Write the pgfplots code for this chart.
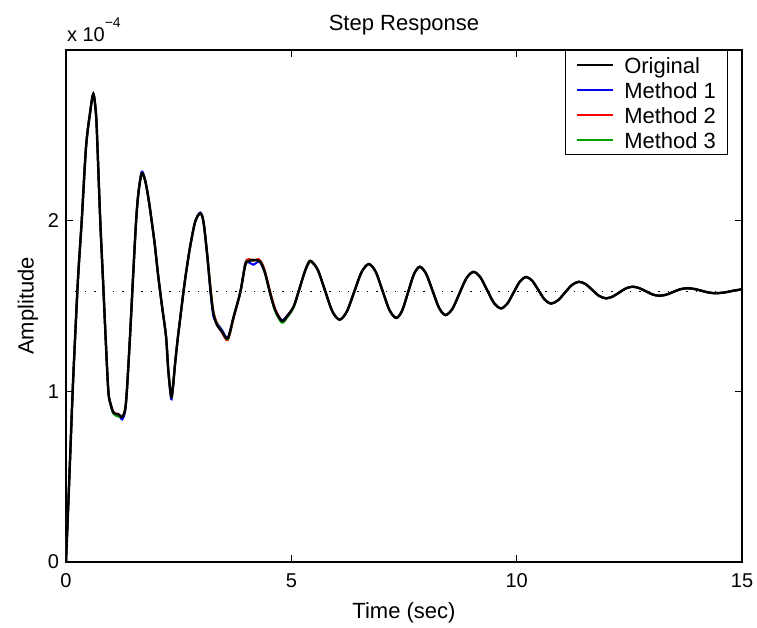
\documentclass[border=0pt]{standalone}
\usepackage{fontspec}
\setmainfont{Liberation Sans}
\usepackage{pgfplots}
\usepackage{pgfplotstable}
\pgfplotsset{compat=1.18}
\usetikzlibrary{calc}
\definecolor{mgreen}{RGB}{0,160,0}

% values in units of 1e-4
\pgfplotstableread{
t v
0 0
0.078 0.52
0.149 1.008
0.21 1.36
0.273 1.69
0.349 2.00
0.444 2.43
0.533 2.63
0.607 2.742
0.667 2.62
0.70 2.42
0.76 2.00
0.82 1.66
0.88 1.31
0.94 1.00
0.99 0.925
1.05 0.877
1.10 0.868
1.16 0.866
1.21 0.855
1.25 0.85
1.31 0.89
1.35 1.00
1.42 1.32
1.49 1.68
1.556 2.00
1.607 2.16
1.68 2.277
1.756 2.235
1.83 2.13
1.90 2.00
1.97 1.86
2.04 1.69
2.13 1.50
2.22 1.32
2.27 1.125
2.333 0.969
2.37 1.02
2.42 1.16
2.48 1.31
2.54 1.44
2.607 1.584
2.667 1.70
2.756 1.85
2.867 1.994
2.978 2.043
3.05 1.994
3.13 1.81
3.21 1.584
3.27 1.457
3.35 1.389
3.46 1.35
3.59 1.311
3.72 1.437
3.87 1.584
3.98 1.74
4.06 1.763
4.16 1.77
4.31 1.76
4.42 1.69
4.52 1.584
4.64 1.477
4.79 1.412
4.90 1.437
5.05 1.496
5.16 1.584
5.31 1.71
5.42 1.765
5.5825 1.714
5.745 1.5925
5.9075 1.470
6.07 1.42
6.2325 1.468
6.395 1.583
6.5575 1.698
6.72 1.746
6.8725 1.700
7.025 1.588
7.1775 1.476
7.33 1.43
7.46 1.474
7.59 1.58
7.72 1.686
7.85 1.73
7.9925 1.688
8.135 1.5885
8.2775 1.489
8.42 1.447
8.575 1.484
8.73 1.5735
8.885 1.663
9.04 1.70
9.1925 1.669
9.345 1.593
9.4975 1.517
9.65 1.486
9.79 1.513
9.93 1.578
10.07 1.643
10.21 1.67
10.3475 1.647
10.485 1.592
10.6225 1.537
10.76 1.514
10.915 1.533
11.07 1.578
11.225 1.623
11.38 1.642
11.53 1.628
11.68 1.5935
11.83 1.559
11.98 1.545
12.1275 1.555
12.275 1.579
12.4225 1.603
12.57 1.613
12.7175 1.605
12.865 1.5865
13.0125 1.568
13.16 1.56
13.315 1.566
13.47 1.582
13.625 1.598
13.78 1.604
13.94 1.600
14.10 1.5895
14.26 1.579
14.42 1.575
14.6 1.579
14.8 1.589
15 1.598
}\orig

\pgfplotstableread{
t v
5.42 1.765
5.5825 1.714
5.745 1.5925
5.9075 1.470
6.07 1.42
6.2325 1.468
6.395 1.583
6.5575 1.698
6.72 1.746
6.8725 1.700
7.025 1.588
7.1775 1.476
7.33 1.43
7.46 1.474
7.59 1.58
7.72 1.686
7.85 1.73
7.9925 1.688
8.135 1.5885
8.2775 1.489
8.42 1.447
8.575 1.484
8.73 1.5735
8.885 1.663
9.04 1.70
9.1925 1.669
9.345 1.593
9.4975 1.517
9.65 1.486
9.79 1.513
9.93 1.578
10.07 1.643
10.21 1.67
10.3475 1.647
10.485 1.592
10.6225 1.537
10.76 1.514
10.915 1.533
11.07 1.578
11.225 1.623
11.38 1.642
11.53 1.628
11.68 1.5935
11.83 1.559
11.98 1.545
12.1275 1.555
12.275 1.579
12.4225 1.603
12.57 1.613
12.7175 1.605
12.865 1.5865
13.0125 1.568
13.16 1.56
13.315 1.566
13.47 1.582
13.625 1.598
13.78 1.604
13.94 1.600
14.10 1.5895
14.26 1.579
14.42 1.575
14.6 1.579
14.8 1.589
15 1.598
}\late

\pgfplotstableread{
t v
0 0
0.078 0.52
0.149 1.008
0.21 1.36
0.273 1.69
0.349 2.00
0.444 2.43
0.533 2.63
0.607 2.745
0.667 2.62
0.70 2.42
0.76 2.00
0.82 1.66
0.88 1.31
0.94 1.00
0.99 0.92
1.05 0.872
1.10 0.862
1.16 0.858
1.21 0.845
1.25 0.835
1.31 0.88
1.35 1.00
1.42 1.32
1.49 1.68
1.556 2.00
1.607 2.17
1.68 2.287
1.756 2.24
1.83 2.13
1.90 2.00
1.97 1.86
2.04 1.69
2.13 1.50
2.22 1.32
2.27 1.115
2.333 0.955
2.37 1.01
2.42 1.16
2.48 1.31
2.54 1.44
2.607 1.584
2.667 1.70
2.756 1.85
2.867 1.994
2.978 2.048
3.05 1.994
3.13 1.80
3.21 1.57
3.27 1.44
3.35 1.40
3.46 1.36
3.59 1.315
3.72 1.437
3.87 1.584
3.98 1.755
4.06 1.755
4.16 1.742
4.25 1.758
4.31 1.755
4.42 1.69
4.52 1.584
4.64 1.477
4.79 1.418
4.90 1.442
5.05 1.496
5.16 1.584
5.31 1.71
5.42 1.765
}\mA

\pgfplotstableread{
t v
0 0
0.078 0.52
0.149 1.008
0.21 1.36
0.273 1.69
0.349 2.00
0.444 2.43
0.533 2.63
0.607 2.742
0.667 2.62
0.70 2.42
0.76 2.00
0.82 1.66
0.88 1.31
0.94 1.00
0.99 0.928
1.05 0.88
1.10 0.87
1.16 0.866
1.21 0.855
1.25 0.85
1.31 0.89
1.35 1.00
1.42 1.32
1.49 1.68
1.556 2.00
1.607 2.16
1.68 2.277
1.756 2.235
1.83 2.13
1.90 2.00
1.97 1.86
2.04 1.69
2.13 1.50
2.22 1.32
2.27 1.125
2.333 0.969
2.37 1.02
2.42 1.16
2.48 1.31
2.54 1.44
2.607 1.584
2.667 1.70
2.756 1.85
2.867 1.994
2.978 2.043
3.05 1.994
3.13 1.81
3.21 1.60
3.27 1.47
3.35 1.40
3.46 1.345
3.59 1.300
3.72 1.43
3.87 1.584
3.98 1.75
4.06 1.775
4.16 1.765
4.27 1.775
4.35 1.75
4.42 1.70
4.52 1.595
4.64 1.485
4.79 1.412
4.90 1.437
5.05 1.496
5.16 1.584
5.31 1.71
5.42 1.765
}\mB

\pgfplotstableread{
t v
0 0
0.078 0.52
0.149 1.008
0.21 1.36
0.273 1.69
0.349 2.00
0.444 2.43
0.533 2.63
0.607 2.742
0.667 2.62
0.70 2.42
0.76 2.00
0.82 1.66
0.88 1.31
0.94 1.00
0.99 0.92
1.05 0.87
1.10 0.858
1.16 0.852
1.21 0.852
1.25 0.85
1.31 0.89
1.35 1.00
1.42 1.32
1.49 1.68
1.556 2.00
1.607 2.16
1.68 2.277
1.756 2.235
1.83 2.13
1.90 2.00
1.97 1.86
2.04 1.69
2.13 1.50
2.22 1.32
2.27 1.125
2.333 0.969
2.37 1.02
2.42 1.16
2.48 1.31
2.54 1.44
2.607 1.584
2.667 1.70
2.756 1.85
2.867 1.994
2.978 2.043
3.05 1.994
3.13 1.81
3.21 1.59
3.27 1.462
3.35 1.395
3.46 1.352
3.59 1.305
3.72 1.437
3.87 1.584
3.98 1.745
4.06 1.765
4.16 1.768
4.31 1.762
4.42 1.69
4.52 1.584
4.64 1.47
4.79 1.402
4.90 1.43
5.05 1.49
5.16 1.584
5.31 1.71
5.42 1.765
}\mC

\begin{document}
\begin{tikzpicture}
\begin{axis}[
  name=ax,
  scale only axis,
  width=338pt, height=256pt,
  xmin=0, xmax=15, ymin=0, ymax=3,
  xtick={0,5,10,15}, ytick={0,1,2},
  tick align=inside, tick pos=both,
  major tick length=3.5pt,
  axis line style={line width=0.6pt},
  every tick/.style={black, line width=0.5pt},
  /pgf/number format/assume math mode=true,
  ticklabel style={font=\fontsize{10}{12}\selectfont},
  xticklabel style={yshift=-2.3pt},
  title={Step Response},
  title style={at={(axis description cs:0.5,1.039)}, anchor=base, yshift=-6pt, font=\fontsize{11}{13}\selectfont},
  xlabel={Time (sec)},
  xlabel style={at={(axis description cs:0.5,-0.1094)}, anchor=base, font=\fontsize{11}{13}\selectfont},
  ylabel={Amplitude},
  ylabel style={at={(axis description cs:-0.048,0.5)}, anchor=base, font=\fontsize{11}{13}\selectfont},
  legend style={at={(axis description cs:0.98,1)}, anchor=north east, draw=black, line width=0.5pt,
    font=\fontsize{11}{13}\selectfont, inner xsep=5pt, inner ysep=1pt,
    nodes={inner xsep=1pt, inner ysep=1pt, text height=9.5pt, text depth=1pt},
    column sep=4pt, row sep=0pt},
  legend cell align=left,
  legend image code/.code={\draw[#1] (0pt,0pt) -- (18pt,0pt);},
]
\addplot[black, line width=0.7pt, dash pattern=on 0.7pt off 4pt, forget plot] coordinates {(0,1.585) (15,1.585)};
\addplot[blue, line width=1pt, smooth, forget plot] table[x=t,y=v] {\mA};
\addplot[blue, line width=1pt, smooth, forget plot] table[x=t,y=v] {\late};
\addplot[red, line width=1pt, smooth, forget plot] table[x=t,y=v] {\mB};
\addplot[red, line width=1pt, smooth, forget plot] table[x=t,y=v] {\late};
\addplot[mgreen, line width=1pt, smooth, forget plot] table[x=t,y=v] {\mC};
\addplot[mgreen, line width=1pt, smooth, forget plot] table[x=t,y=v] {\late};
\addplot[black, line width=1.2pt, smooth] table[x=t,y=v] {\orig};
\addlegendentry{Original}
\addlegendimage{blue, line width=1pt}
\addlegendentry{Method 1}
\addlegendimage{red, line width=1pt}
\addlegendentry{Method 2}
\addlegendimage{mgreen, line width=1pt}
\addlegendentry{Method 3}
\end{axis}
\node[anchor=base west, inner sep=0pt, font=\fontsize{10}{12}\selectfont] at ($(ax.north west)+(0.3pt,4.2pt)$) {x 10\raisebox{6.8pt}{\fontsize{7}{7}\selectfont −4}};
\pgfresetboundingbox
\path[use as bounding box] ($(ax.south west)+(-33pt,-32.5pt)$) rectangle ($(ax.north east)+(7.5pt,25pt)$);
\end{tikzpicture}
\end{document}
